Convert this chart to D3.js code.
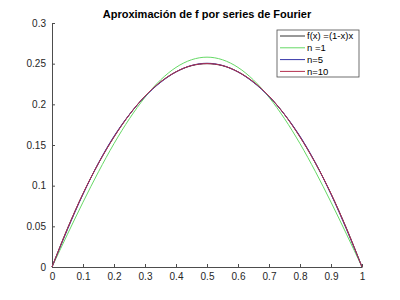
<!DOCTYPE html>
<html>
<head>
<meta charset="utf-8">
<script src="https://cdn.jsdelivr.net/npm/d3@7"></script>
<style>
  body { margin: 0; background: #fff; }
  svg { display: block; font-family: "Liberation Sans", Arial, sans-serif; }
  .axis path, .axis line { stroke: #4d4d4d; }
  .axis text { fill: #262626; font-size: 10px; }
</style>
</head>
<body>
<div class="chart"></div>
<script>
var width = 400, height = 300;
var margin = {top: 23, right: 38, bottom: 33, left: 52};

// x sample points
var xs = [0, 0.05, 0.1, 0.15, 0.2, 0.25, 0.3, 0.35, 0.4, 0.45, 0.5,
          0.55, 0.6, 0.65, 0.7, 0.75, 0.8, 0.85, 0.9, 0.95, 1];

var f_vals = [0, 0.0475, 0.09, 0.1275, 0.16, 0.1875, 0.21, 0.2275, 0.24, 0.2475, 0.25,
              0.2475, 0.24, 0.2275, 0.21, 0.1875, 0.16, 0.1275, 0.09, 0.0475, 0];
var n1_vals = [0, 0.0404, 0.0797, 0.1171, 0.1517, 0.1824, 0.2087, 0.2299, 0.2454, 0.2548, 0.2580,
               0.2548, 0.2454, 0.2299, 0.2087, 0.1824, 0.1517, 0.1171, 0.0797, 0.0404, 0];
var n5_vals = [0, 0.0462, 0.0895, 0.1280, 0.1608, 0.1877, 0.2096, 0.2269, 0.2398, 0.2478, 0.2505,
               0.2478, 0.2398, 0.2269, 0.2096, 0.1877, 0.1608, 0.1280, 0.0895, 0.0462, 0];
var n10_vals = [0, 0.0472, 0.0903, 0.1276, 0.1598, 0.1875, 0.2102, 0.2275, 0.2399, 0.2477, 0.2501,
                0.2477, 0.2399, 0.2275, 0.2102, 0.1875, 0.1598, 0.1276, 0.0903, 0.0472, 0];

var series_names = ["f(x) =(1-x)x", "n =1", "n=5", "n=10"];
var series_colors = ["#333333", "#66d966", "#3535a8", "#b3304e"];

var x_ticks = [0, 0.1, 0.2, 0.3, 0.4, 0.5, 0.6, 0.7, 0.8, 0.9, 1];
var y_ticks = [0, 0.05, 0.1, 0.15, 0.2, 0.25, 0.3];

var svg = d3.select(".chart").append("svg")
    .attr("width", width)
    .attr("height", height);

var x = d3.scaleLinear().domain([0, 1]).range([margin.left, width - margin.right]);
var y = d3.scaleLinear().domain([0, 0.3]).range([height - margin.bottom, margin.top]);

svg.append("g")
    .attr("class", "axis")
    .attr("transform", "translate(0," + (height - margin.bottom) + ")")
    .call(d3.axisBottom(x).tickValues(x_ticks).tickSizeInner(-3).tickSizeOuter(0).tickPadding(6)
      .tickFormat(function(d){ return d3.format("")(+d.toFixed(2)); }));

svg.append("g")
    .attr("class", "axis")
    .attr("transform", "translate(" + margin.left + ",0)")
    .call(d3.axisLeft(y).tickValues(y_ticks).tickSizeInner(-3).tickSizeOuter(0).tickPadding(6)
      .tickFormat(function(d){ return d3.format("")(+d.toFixed(2)); }));

var all_series = [f_vals, n1_vals, n5_vals, n10_vals];

var line = d3.line()
    .x(function(d, i){ return x(xs[i]); })
    .y(function(d){ return y(d); })
    .curve(d3.curveMonotoneX);

svg.selectAll(".series")
    .data(all_series)
  .enter().append("path")
    .attr("class", "series")
    .attr("d", line)
    .attr("fill", "none")
    .attr("stroke", function(d, i){ return series_colors[i]; })
    .attr("stroke-width", 1);

// title
svg.append("text")
    .attr("x", (margin.left + width - margin.right) / 2)
    .attr("y", 18)
    .attr("text-anchor", "middle")
    .style("font-size", "11px")
    .style("font-weight", "bold")
    .style("fill", "#000")
    .text("Aproximación de f por series de Fourier");

// legend
var lg = svg.append("g").attr("transform", "translate(277,30)");
lg.append("rect")
    .attr("width", 82).attr("height", 47)
    .attr("fill", "#fff").attr("stroke", "#4d4d4d").attr("stroke-width", 0.8);

var item = lg.selectAll(".legend-item")
    .data(series_names)
  .enter().append("g")
    .attr("class", "legend-item")
    .attr("transform", function(d, i){ return "translate(0," + (6 + i * 11.8) + ")"; });

item.append("line")
    .attr("x1", 3).attr("x2", 28)
    .attr("stroke", function(d, i){ return series_colors[i]; });

item.append("text")
    .attr("x", 30).attr("dy", "0.35em")
    .style("font-size", "9.5px")
    .style("fill", "#000")
    .text(function(d){ return d; });
</script>
</body>
</html>
